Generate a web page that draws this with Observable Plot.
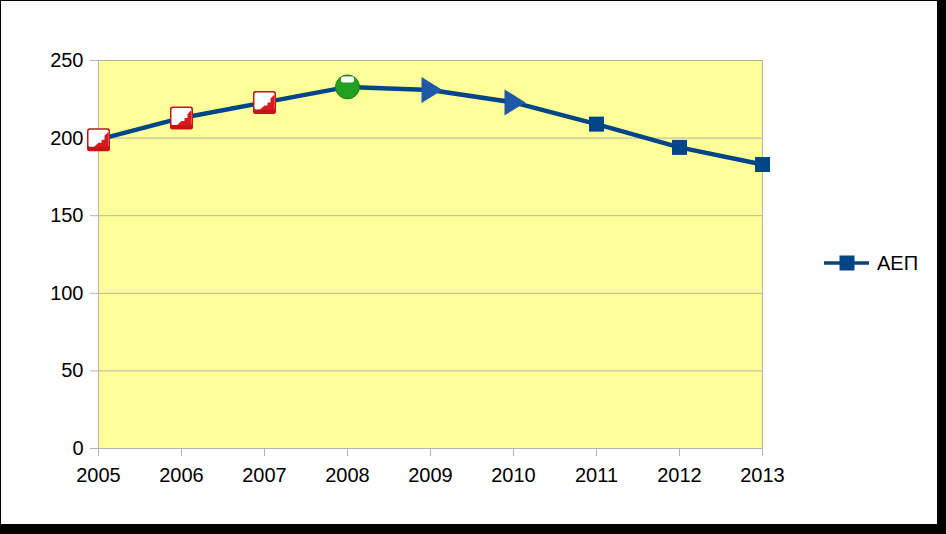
<!DOCTYPE html>
<html>
<head>
<meta charset="utf-8">
<script src="https://cdn.jsdelivr.net/npm/d3@7"></script>
<script src="https://cdn.jsdelivr.net/npm/@observablehq/plot@0.6"></script>
<style>
  html, body { margin: 0; padding: 0; background: #fff; }
  #wrap { position: relative; width: 946px; height: 534px; overflow: hidden; background: #fff; font-family: "Liberation Sans", Arial, sans-serif; }
  #wrap svg.plot { position: absolute; left: 0; top: 0; }
  .edge { position: absolute; background: #000; }
  #legend { position: absolute; left: 823px; top: 251px; display: flex; align-items: center; font-size: 20px; color: #000; }
</style>
</head>
<body>
<div id="wrap">
  <div id="chart"></div>
  <div id="legend"></div>
  <div class="edge" style="left:0;top:0;width:1px;height:534px"></div>
  <div class="edge" style="left:0;top:0;width:946px;height:1px"></div>
  <div class="edge" style="left:937px;top:0;width:9px;height:534px"></div>
  <div class="edge" style="left:0;top:524px;width:946px;height:10px"></div>
</div>
<script>
const years = [2005, 2006, 2007, 2008, 2009, 2010, 2011, 2012, 2013];
const values = [199, 213, 223, 233, 231, 223, 209, 194, 183];
const markerKinds = ["box", "box", "box", "ball", "arrow", "arrow", "square", "square", "square"];
const yTicks = [0, 50, 100, 150, 200, 250];
const seriesName = "ΑΕΠ";

const data = years.map((year, i) => ({year, value: values[i], kind: markerKinds[i]}));
const of = k => data.filter(d => d.kind === k);

const lineColor = "#004586";

function roundRect(c, x0, y0, x1, y1, r) {
  c.moveTo(x0 + r, y0); c.lineTo(x1 - r, y0); c.quadraticCurveTo(x1, y0, x1, y0 + r);
  c.lineTo(x1, y1 - r); c.quadraticCurveTo(x1, y1, x1 - r, y1); c.lineTo(x0 + r, y1);
  c.quadraticCurveTo(x0, y1, x0, y1 - r); c.lineTo(x0, y0 + r); c.quadraticCurveTo(x0, y0, x0 + r, y0); c.closePath();
}
// custom symbols (pixel-based)
const boxOuterSym = {draw(c) { roundRect(c, -11.5, -11.5, 11.5, 11.5, 2.5); }};
const boxInnerSym = {draw(c) { roundRect(c, -10, -10, 10, 7, 1.5); }};
const rampSym = {draw(c) { c.moveTo(-5, 7.5); c.lineTo(10, 7.5); c.lineTo(10, -8); c.lineTo(6, -4); c.lineTo(6, 0); c.lineTo(3, 0); c.lineTo(3, 3); c.lineTo(0, 3); c.closePath(); }};
const ballSym = {draw(c) { c.moveTo(12, 0); c.arc(0, 0, 12, 0, 2 * Math.PI); c.closePath(); }};
const shineSym = {draw(c) { roundRect(c, -6.5, -10.5, 6.5, -4.5, 2); }};
const arrowSym = {draw(c) { c.moveTo(-9, -13); c.lineTo(12, 0); c.lineTo(-9, 13); c.closePath(); }};
const squareSym = {draw(c) { c.moveTo(-7.5, -7.5); c.lineTo(7.5, -7.5); c.lineTo(7.5, 7.5); c.lineTo(-7.5, 7.5); c.closePath(); }};

const chart = Plot.plot({
  width: 946,
  height: 534,
  marginLeft: 98,
  marginRight: 184,
  marginTop: 60,
  marginBottom: 86,
  style: {background: "transparent", fontFamily: "'Liberation Sans', Arial, sans-serif", fontSize: "20px", color: "#000"},
  x: {domain: [2005, 2013]},
  y: {domain: [0, 250]},
  marks: [
    Plot.frame({fill: "#ffff99", stroke: null}),
    Plot.gridY(yTicks, {stroke: "#b3b3b3", strokeOpacity: 1}),
    Plot.frame({stroke: "#b3b3b3"}),
    Plot.axisX({ticks: years, tickFormat: d => String(d), tickSize: 8, tickPadding: 11, stroke: "#b3b3b3", fill: "#000", fontSize: 20, label: null}),
    Plot.axisY({ticks: yTicks, tickSize: 8, tickPadding: 7, stroke: "#b3b3b3", fill: "#000", fontSize: 20, label: null}),
    Plot.line(data, {x: "year", y: "value", stroke: lineColor, strokeWidth: 4.5, curve: "linear"}),
    Plot.dot(of("box"), {x: "year", y: "value", symbol: boxOuterSym, fill: "#c4141a", stroke: null}),
    Plot.dot(of("box"), {x: "year", y: "value", symbol: boxInnerSym, fill: "#ffffff", stroke: null}),
    Plot.dot(of("box"), {x: "year", y: "value", symbol: rampSym, fill: "#d8191e", stroke: null}),
    Plot.dot(of("ball"), {x: "year", y: "value", symbol: ballSym, fill: "#22a022", stroke: "#18801a", strokeWidth: 1}),
    Plot.dot(of("ball"), {x: "year", y: "value", symbol: shineSym, fill: "#ffffff", stroke: null}),
    Plot.dot(of("arrow"), {x: "year", y: "value", symbol: arrowSym, fill: "#1f58a6", stroke: null}),
    Plot.dot(of("square"), {x: "year", y: "value", symbol: squareSym, fill: lineColor, stroke: null})
  ]
});
document.getElementById("chart").appendChild(chart);

const legend = document.getElementById("legend");
legend.innerHTML = `<svg width="47" height="24" style="margin-right:7px"><line x1="1" x2="46" y1="12" y2="12" stroke="${lineColor}" stroke-width="3.5"/><rect x="16.5" y="4.5" width="15" height="15" fill="${lineColor}"/></svg><span></span>`;
legend.querySelector("span").textContent = seriesName;
</script>
</body>
</html>
